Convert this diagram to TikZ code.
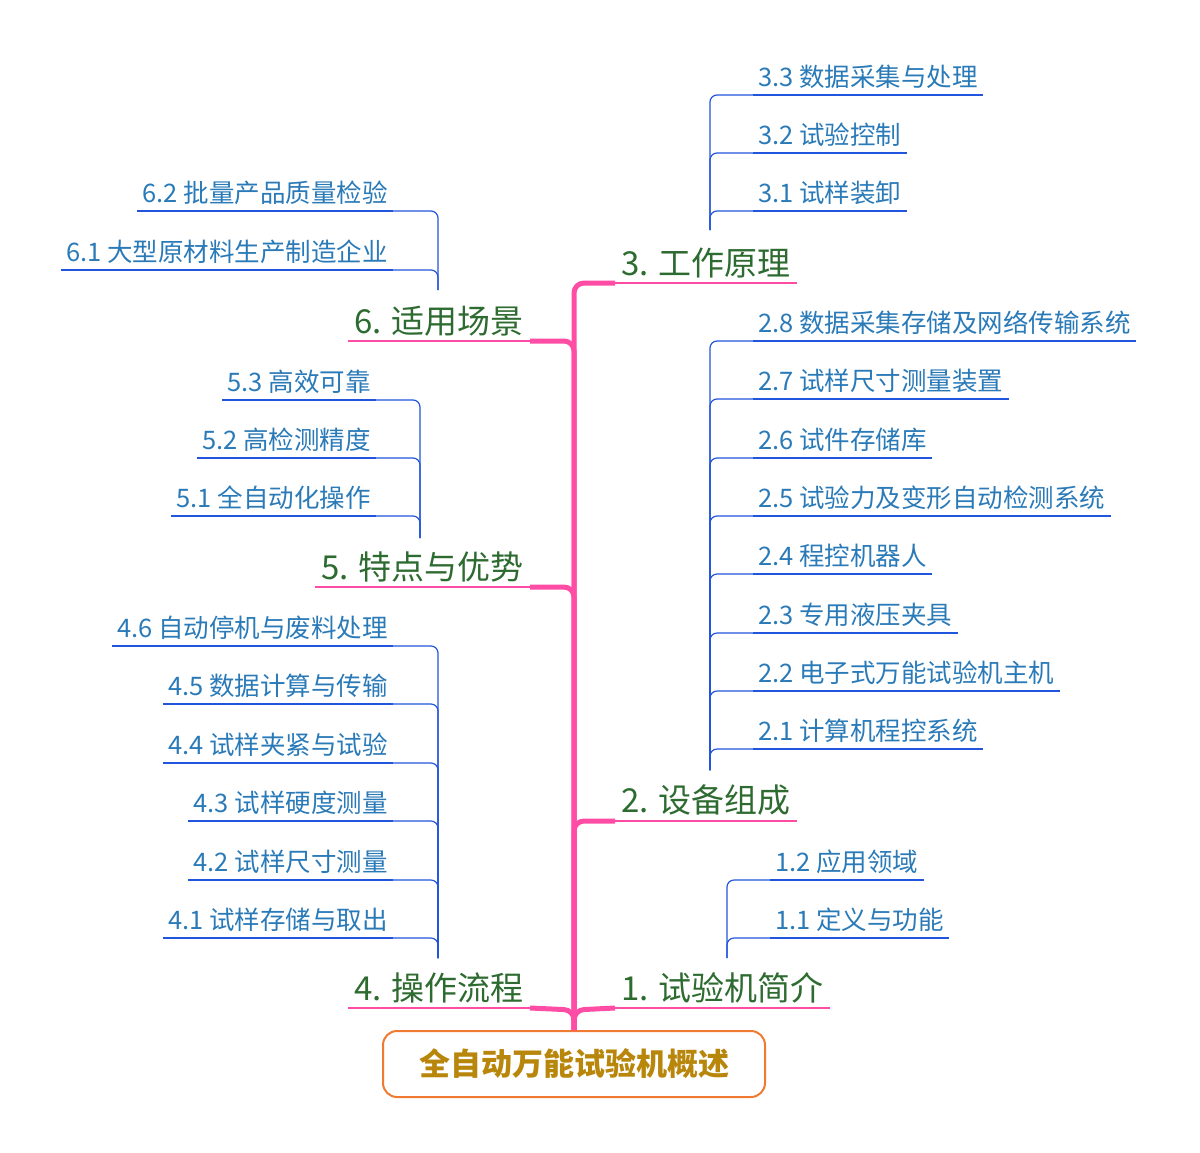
\documentclass[tikz,border=0pt]{standalone}
\usepackage{fontspec}
\setmainfont{Noto Sans CJK SC}
\definecolor{pk}{HTML}{FF4DA6}
\definecolor{bl}{HTML}{2255DD}
\definecolor{tb}{HTML}{2A7AB8}
\definecolor{gr}{HTML}{2E6B30}
\definecolor{org}{HTML}{F07A30}
\definecolor{gold}{HTML}{B8860B}
\tikzset{
 kid/.style={font=\fontsize{25.5}{29}\selectfont, text=tb, inner xsep=5pt, inner ysep=6pt},
 main/.style={font=\fontsize{33}{38}\selectfont, text=gr, inner xsep=6pt, inner ysep=5pt},
 uline/.style={bl, line width=2.2pt},
 conn/.style={bl, line width=1.2pt, rounded corners=7pt},
 puline/.style={pk, line width=2.2pt},
 trunk/.style={pk, line width=5pt, rounded corners=10pt},
}
\begin{document}
\begin{tikzpicture}[x=1pt,y=-1pt]
\useasboundingbox (0,0) rectangle (1200,1152);
% title
\node[draw=org, line width=2pt, rounded corners=14pt, minimum width=382pt, minimum height=66pt, text=gold, font=\fontsize{31}{36}\selectfont\bfseries] (title) at (574,1064) {全自动万能试验机概述};
% main nodes
\node[main, anchor=south west] (m1) at (615,1008) {1. 试验机简介};
\node[main, anchor=south west] (m2) at (615,821) {2. 设备组成};
\node[main, anchor=south west] (m3) at (615,283) {3. 工作原理};
\node[main, anchor=south east] (m4) at (530,1008) {4. 操作流程};
\node[main, anchor=south east] (m5) at (530,587) {5. 特点与优势};
\node[main, anchor=south east] (m6) at (530,341) {6. 适用场景};
\foreach \n in {m1,m2,m3,m4,m5,m6}{\draw[puline] (\n.south west) -- (\n.south east);}
% trunk
\coordinate (tb) at (574,1030);
\draw[trunk] (tb) -- (574,1010) -- (m1.south west);
\draw[trunk] (tb) -- (574,1010) -- (m4.south east);
\draw[trunk] (tb) |- (m2.south west);
\draw[trunk] (tb) |- (m3.south west);
\draw[trunk] (tb) |- (m5.south east);
\draw[trunk] (tb) |- (m6.south east);
% right children
\foreach \nm/\y/\t in {k12/880/{1.2 应用领域},k11/938/{1.1 定义与功能}}{
 \node[kid, anchor=south west] (\nm) at (770,\y) {\t};}
\foreach \nm/\y/\t in {k28/341/{2.8 数据采集存储及网络传输系统},k27/399/{2.7 试样尺寸测量装置},k26/458/{2.6 试件存储库},k25/516/{2.5 试验力及变形自动检测系统},k24/574/{2.4 程控机器人},k23/633/{2.3 专用液压夹具},k22/691/{2.2 电子式万能试验机主机},k21/749/{2.1 计算机程控系统},k33/95/{3.3 数据采集与处理},k32/153/{3.2 试验控制},k31/211/{3.1 试样装卸}}{
 \node[kid, anchor=south west] (\nm) at (753,\y) {\t};}
% left children
\foreach \nm/\y/\t in {k46/646/{4.6 自动停机与废料处理},k45/704/{4.5 数据计算与传输},k44/763/{4.4 试样夹紧与试验},k43/821/{4.3 试样硬度测量},k42/880/{4.2 试样尺寸测量},k41/938/{4.1 试样存储与取出},k62/211/{6.2 批量产品质量检验},k61/270/{6.1 大型原材料生产制造企业}}{
 \node[kid, anchor=south east] (\nm) at (393,\y) {\t};}
\foreach \nm/\y/\t in {k53/400/{5.3 高效可靠},k52/458/{5.2 高检测精度},k51/516/{5.1 全自动化操作}}{
 \node[kid, anchor=south east] (\nm) at (376,\y) {\t};}
\foreach \n in {k12,k11,k28,k27,k26,k25,k24,k23,k22,k21,k33,k32,k31,k46,k45,k44,k43,k42,k41,k62,k61,k53,k52,k51}{\draw[uline] (\n.south west) -- (\n.south east);}
% connectors
\coordinate (c1) at (727,958);
\coordinate (c2) at (710,770);
\coordinate (c3) at (710,230);
\coordinate (c4) at (438,958);
\coordinate (c5) at (420,538);
\coordinate (c6) at (438,290);
\foreach \n in {k12,k11}{\draw[conn] (c1) |- (\n.south west);}
\foreach \n in {k28,k27,k26,k25,k24,k23,k22,k21}{\draw[conn] (c2) |- (\n.south west);}
\foreach \n in {k33,k32,k31}{\draw[conn] (c3) |- (\n.south west);}
\foreach \n in {k46,k45,k44,k43,k42,k41}{\draw[conn] (c4) |- (\n.south east);}
\foreach \n in {k53,k52,k51}{\draw[conn] (c5) |- (\n.south east);}
\foreach \n in {k62,k61}{\draw[conn] (c6) |- (\n.south east);}
\end{tikzpicture}
\end{document}
